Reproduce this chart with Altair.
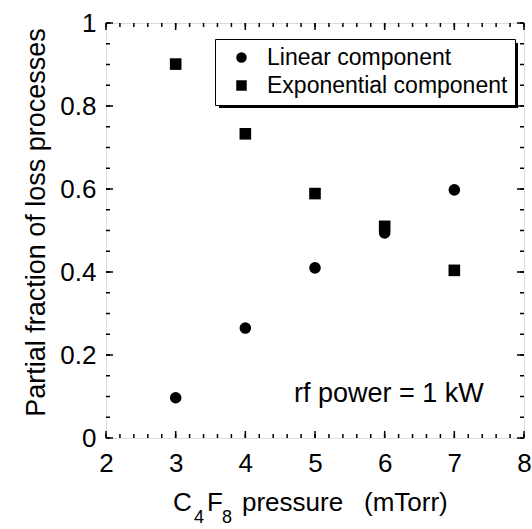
import altair as alt
import pandas as pd
import numpy as np

# ---- data ----
pressure = [3, 4, 5, 6, 7]
linear_frac = [0.097, 0.265, 0.41, 0.494, 0.598]
expo_frac = [0.901, 0.733, 0.589, 0.51, 0.404]
series_names = ["Linear component", "Exponential component"]
x_ticks = [2, 3, 4, 5, 6, 7, 8]
y_ticks = [0, 0.2, 0.4, 0.6, 0.8, 1.0]

df = pd.DataFrame({
    "p": pressure + pressure,
    "f": linear_frac + expo_frac,
    "s": [series_names[0]] * len(pressure) + [series_names[1]] * len(pressure),
})

W, H = 418, 415
FONT = "Liberation Sans"
FS = 26

xs = alt.Scale(domain=[2, 8], nice=False, zero=False)
ys = alt.Scale(domain=[0, 1], nice=False)

points = alt.Chart(df).mark_point(filled=True, opacity=1, color="black", size=135).encode(
    x=alt.X("p:Q", scale=xs, axis=alt.Axis(values=x_ticks, format="d", tickSize=0, domain=False,
                                           grid=False, labelPadding=12, labelFontSize=FS,
                                           labelFlush=False,
                                           labelFont=FONT, labelColor="black", title=None)),
    y=alt.Y("f:Q", scale=ys, axis=alt.Axis(values=y_ticks, format=".1~f", tickSize=0, domain=False,
                                           grid=False, labelPadding=10, labelFontSize=FS,
                                           labelFlush=False,
                                           labelFont=FONT, labelColor="black",
                                           title="Partial fraction of loss processes",
                                           titleFont=FONT, titleFontSize=27, titleFontWeight="normal",
                                           titleColor="black", titleX=-70, titleY=199,
                                           titleAngle=270, titleAlign="center", titleBaseline="middle")),
    shape=alt.Shape("s:N", scale=alt.Scale(domain=series_names, range=["circle", "square"]),
                    legend=alt.Legend(title=None, orient="none", legendX=109, legendY=16,
                                      fillColor="white", strokeColor="black",
                                      padding=7, rowPadding=4, symbolOffset=8, labelOffset=14,
                                      symbolSize=110, symbolFillColor="black", symbolStrokeColor="black",
                                      symbolStrokeWidth=0,
                                      labelFont=FONT, labelFontSize=23, labelColor="black",
                                      labelLimit=400)),
)

# minor/major inside ticks
y_minor = [round(v, 2) for v in np.arange(0, 1.0001, 0.05)]
x_minor = [round(v, 2) for v in np.arange(2, 8.0001, 0.2)]
ymaj = pd.DataFrame({"v": y_ticks})
ymin = pd.DataFrame({"v": y_minor})
xmaj = pd.DataFrame({"v": x_ticks})
xmin = pd.DataFrame({"v": x_minor})

def yt(d, L):
    left = alt.Chart(d).mark_rule(color="black", strokeWidth=1.5).encode(
        y=alt.Y("v:Q", scale=ys), x=alt.value(0), x2=alt.value(L))
    right = alt.Chart(d).mark_rule(color="black", strokeWidth=1.5).encode(
        y=alt.Y("v:Q", scale=ys), x=alt.value(W - L), x2=alt.value(W))
    return left + right

def xt(d, L):
    bot = alt.Chart(d).mark_rule(color="black", strokeWidth=1.5).encode(
        x=alt.X("v:Q", scale=xs), y=alt.value(H), y2=alt.value(H - L))
    top = alt.Chart(d).mark_rule(color="black", strokeWidth=1.5).encode(
        x=alt.X("v:Q", scale=xs), y=alt.value(0), y2=alt.value(L))
    return bot + top

ticks = yt(ymin, 4) + yt(ymaj, 7) + xt(xmin, 4) + xt(xmaj, 7)

# legend shadow
shadow = alt.Chart(pd.DataFrame({"a": [0]})).mark_rect(color="black").encode(
    x=alt.value(113), x2=alt.value(412), y=alt.value(20), y2=alt.value(85))

def txt(t, x, y, size=FS):
    return alt.Chart(pd.DataFrame({"a": [0]})).mark_text(
        text=t, font=FONT, fontSize=size, align="left", baseline="alphabetic", color="black"
    ).encode(x=alt.value(x), y=alt.value(y))

annot = txt("rf power = 1 kW", 188, 379, 27)
xtitle = (txt("C", 67, 488) + txt("4", 88, 500, 18) + txt("F", 101, 488) + txt("8", 116, 500, 18)
          + txt("pressure", 136, 488) + txt("(mTorr)", 258, 488))

chart = alt.layer(ticks, shadow, points, annot, xtitle).properties(
    width=W, height=H,
    autosize=alt.AutoSizeParams(type="none"),
    padding={"left": 106, "top": 23, "right": 8, "bottom": 91},
).configure_view(stroke="black", strokeWidth=1.5).configure_legend(strokeWidth=1.5
).configure(background="white")

chart.save("out.html", embed_options={"renderer": "svg", "actions": False})
